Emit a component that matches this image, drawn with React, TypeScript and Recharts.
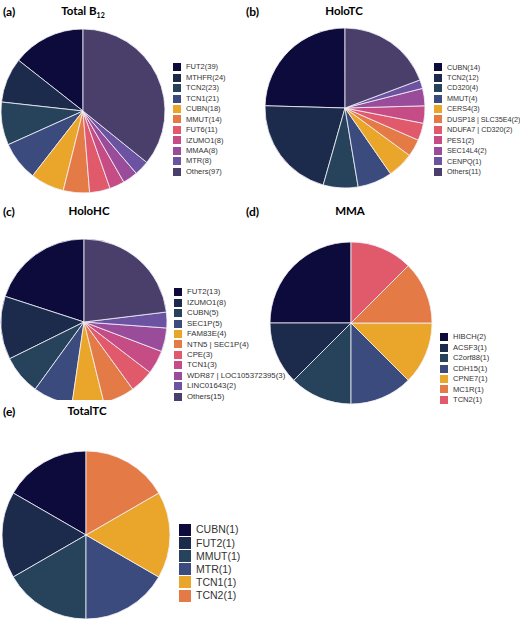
import React from "react"
import { PieChart, Pie, Cell, Legend } from "recharts"

// shared palette, picked by slice index
const palette = [
  "#0d0b3c", "#1c2a4c", "#26435b", "#3b4b7e", "#e9a62b", "#e47b47",
  "#e05a6b", "#c54c84", "#994c99", "#6c53a1", "#4a3f6b",
]

const totalB12Genes = ["FUT2", "MTHFR", "TCN2", "TCN1", "CUBN", "MMUT", "FUT6", "IZUMO1", "MMAA", "MTR", "Others"]
const totalB12Counts = [39, 24, 23, 21, 18, 14, 11, 8, 8, 8, 97]

const holoTCGenes = ["CUBN", "TCN2", "CD320", "MMUT", "CERS4", "DUSP18 | SLC35E4", "NDUFA7 | CD320", "PES1", "SEC14L4", "CENPQ", "Others"]
const holoTCCounts = [14, 12, 4, 4, 3, 2, 2, 2, 2, 1, 11]

const holoHCGenes = ["FUT2", "IZUMO1", "CUBN", "SEC1P", "FAM83E", "NTN5 | SEC1P", "CPE", "TCN1", "WDR87 | LOC105372395", "LINC01643", "Others"]
const holoHCCounts = [13, 8, 5, 5, 4, 4, 3, 3, 3, 2, 15]

const mmaGenes = ["HIBCH", "ACSF3", "C2orf88", "CDH15", "CPNE7", "MC1R", "TCN2"]
const mmaCounts = [2, 1, 1, 1, 1, 1, 1]

const totalTCGenes = ["CUBN", "FUT2", "MMUT", "MTR", "TCN1", "TCN2"]
const totalTCCounts = [1, 1, 1, 1, 1, 1]

const toRows = (genes: string[], counts: number[]) =>
  genes.map((g, i) => ({ name: `${g}(${counts[i]})`, value: counts[i] }))

const labelFont = "Lato, 'Open Sans', sans-serif"
const legendFont = "'Liberation Sans', Arial, sans-serif"

function makeLegend(order: string[], sq: number, rowH: number, fontSize: number, gap: number) {
  return (props: any) => {
    // keep the slice order instead of the alphabetical one
    const items = [...(props.payload || [])].sort(
      (a: any, b: any) => order.indexOf(a.value) - order.indexOf(b.value)
    )
    return (
      <div style={{ fontFamily: legendFont, fontSize, color: "#333" }}>
        {items.map((p: any, i: number) => (
          <div key={i} style={{ height: rowH, display: "flex", alignItems: "center", whiteSpace: "nowrap" }}>
            <span style={{ display: "inline-block", flex: "none", width: sq, height: sq, background: p.color, marginRight: gap }} />
            <span style={{ lineHeight: 1 }}>{p.value}</span>
          </div>
        ))}
      </div>
    )
  }
}

interface PanelProps {
  left: number
  top: number
  width: number
  height: number
  letter: string
  title: React.ReactNode
  titleX: number
  genes: string[]
  counts: number[]
  cx: number
  cy: number
  r: number
  legendX: number
  legendY: number
  fontSize?: number
  big?: boolean
}

function Panel(p: PanelProps) {
  const data = toRows(p.genes, p.counts)
  const order = data.map((d) => d.name)
  const legend = p.big
    ? makeLegend(order, 12, 13.2, 10.5, 5)
    : makeLegend(order, 8, 10.45, p.fontSize || 7.6, 5)
  return (
    <div style={{ position: "absolute", left: p.left, top: p.top, width: p.width, height: p.height }}>
      <div style={{ position: "absolute", left: 3, top: 4, fontFamily: labelFont, fontWeight: 700, fontSize: 12 }}>
        ({p.letter})
      </div>
      <div style={{ position: "absolute", left: p.titleX - 50, width: 100, top: 4, textAlign: "center", fontFamily: labelFont, fontWeight: 700, fontSize: 11.5 }}>
        {p.title}
      </div>
      <PieChart width={p.width} height={p.height} margin={{ top: 0, right: 0, bottom: 0, left: 0 }}>
        <Pie
          data={data}
          dataKey="value"
          nameKey="name"
          cx={p.cx}
          cy={p.cy}
          outerRadius={p.r}
          startAngle={90}
          endAngle={450}
          stroke="#f4f2fa"
          strokeWidth={0.8}
          isAnimationActive={false}
        >
          {data.map((_, i) => (
            <Cell key={i} fill={palette[i]} />
          ))}
        </Pie>
        <Legend
          layout="vertical"
          content={legend}
          wrapperStyle={{ left: p.legendX, top: p.legendY, width: "auto", height: "auto" }}
        />
      </PieChart>
    </div>
  )
}

export default function App() {
  return (
    <div style={{ position: "absolute", left: 0, top: 0, width: 520, height: 619, background: "#fff", overflow: "hidden" }}>
      <Panel left={0} top={0} width={260} height={200} letter="a"
        title={<span>Total B<sub style={{ fontSize: 7 }}>12</sub></span>} titleX={83}
        genes={totalB12Genes} counts={totalB12Counts}
        cx={83} cy={111} r={82} legendX={173} legendY={62} fontSize={7.5} />
      <Panel left={243} top={0} width={277} height={200} letter="b"
        title="HoloTC" titleX={101}
        genes={holoTCGenes} counts={holoTCCounts}
        cx={102} cy={108} r={80} legendX={191} legendY={62} fontSize={7.2} />
      <Panel left={0} top={200} width={260} height={200} letter="c"
        title="HoloHC" titleX={89}
        genes={holoHCGenes} counts={holoHCCounts}
        cx={84} cy={122} r={83} legendX={174} legendY={87} fontSize={7.8} />
      <Panel left={243} top={200} width={277} height={205} letter="d"
        title="MMA" titleX={107}
        genes={mmaGenes} counts={mmaCounts}
        cx={108} cy={123} r={81} legendX={197} legendY={132} fontSize={7.6} />
      <Panel left={0} top={400} width={260} height={219} letter="e"
        title="TotalTC" titleX={87}
        genes={totalTCGenes} counts={totalTCCounts}
        cx={86} cy={135} r={84} legendX={179} legendY={123} big />
    </div>
  )
}
